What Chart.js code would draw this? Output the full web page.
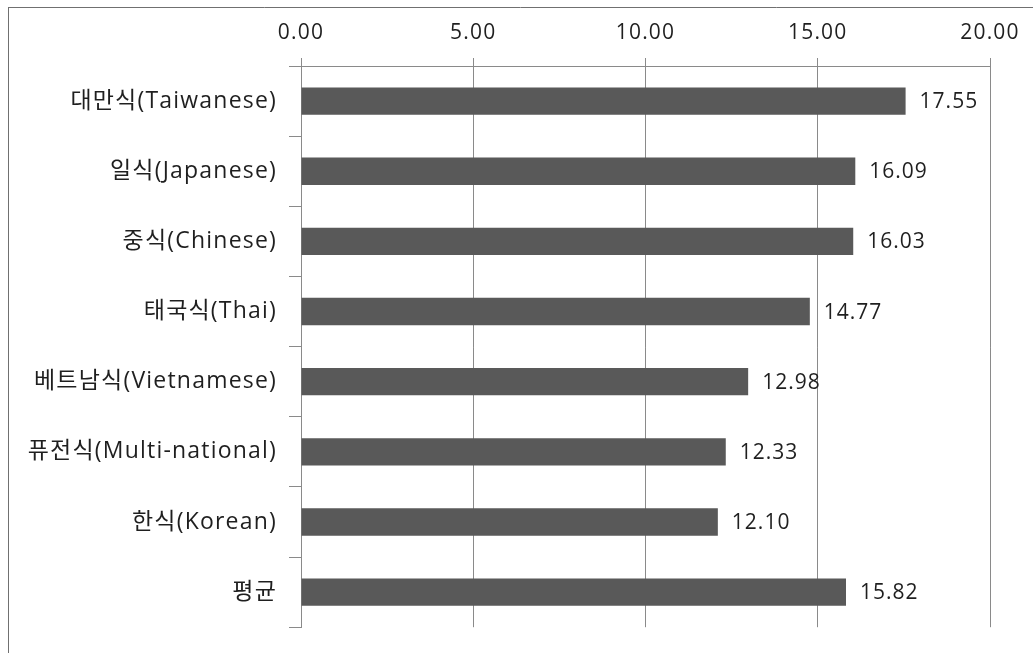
<!DOCTYPE html>
<html>
<head>
<meta charset="utf-8">
<script src="https://cdn.jsdelivr.net/npm/chart.js@4/dist/chart.umd.min.js"></script>
<style>
  html, body { margin: 0; padding: 0; background: #ffffff; }
  #wrap { width: 1033px; height: 653px; position: relative; }
</style>
</head>
<body>
<div id="wrap"><canvas id="c" width="1033" height="653"></canvas></div>
<script>
// Average menu price by cuisine type
const categories = [
  '대만식(Taiwanese)',
  '일식(Japanese)',
  '중식(Chinese)',
  '태국식(Thai)',
  '베트남식(Vietnamese)',
  '퓨전식(Multi-national)',
  '한식(Korean)',
  '평균'
];
const values = [17.55, 16.09, 16.03, 14.77, 12.98, 12.33, 12.10, 15.82];
const xTickValues = [0, 5, 10, 15, 20];

const TEXT = '#1f1f1f';
const GRID = '#8a8a8a';
const BAR = '#595959';
const FAMILY = '"Open Sans", "Noto Sans CJK KR", sans-serif';

// Frame around the figure plus letter spacing for all canvas text
const framePlugin = {
  id: 'frame',
  beforeDraw(chart) {
    const ctx = chart.ctx;
    ctx.letterSpacing = '1.2px';
    ctx.save();
    ctx.strokeStyle = '#707070';
    ctx.lineWidth = 1;
    ctx.beginPath();
    ctx.moveTo(8, 7.5);
    ctx.lineTo(1033, 7.5);
    ctx.moveTo(8.5, 7);
    ctx.lineTo(8.5, 653);
    ctx.stroke();
    ctx.restore();
  }
};

// Value labels to the right of each bar
const valueLabels = {
  id: 'valueLabels',
  afterDatasetsDraw(chart) {
    const ctx = chart.ctx;
    const meta = chart.getDatasetMeta(0);
    ctx.save();
    ctx.letterSpacing = '1px';
    ctx.font = '21px ' + FAMILY;
    ctx.fillStyle = TEXT;
    ctx.textAlign = 'left';
    ctx.textBaseline = 'middle';
    meta.data.forEach((bar, i) => {
      ctx.fillText(values[i].toFixed(2), bar.x + 14, bar.y + 1);
    });
    ctx.restore();
  }
};

new Chart(document.getElementById('c'), {
  type: 'bar',
  data: {
    labels: categories,
    datasets: [{
      data: values,
      backgroundColor: BAR,
      borderWidth: 0,
      barPercentage: 0.39,
      categoryPercentage: 1.0
    }]
  },
  options: {
    indexAxis: 'y',
    responsive: false,
    animation: false,
    devicePixelRatio: 1,
    layout: { padding: { left: 0, top: 0, right: 43, bottom: 16 } },
    plugins: {
      legend: { display: false },
      tooltip: { enabled: false }
    },
    scales: {
      x: {
        position: 'top',
        min: 0,
        max: 20,
        afterBuildTicks(scale) {
          scale.ticks = xTickValues.map(v => ({ value: v }));
        },
        afterFit(scale) { scale.height = 66; },
        ticks: {
          callback: v => Number(v).toFixed(2),
          color: TEXT,
          font: { family: FAMILY, size: 21 },
          padding: 12,
          maxRotation: 0,
          autoSkip: false
        },
        grid: {
          color: GRID,
          lineWidth: 1,
          tickLength: 8,
          drawOnChartArea: true
        },
        border: { display: true, color: GRID, width: 1 }
      },
      y: {
        afterFit(scale) { scale.width = 301; },
        ticks: {
          color: TEXT,
          font: { family: FAMILY, size: 23 },
          padding: 12
        },
        grid: {
          color: GRID,
          lineWidth: 1,
          tickLength: 12,
          offset: true,
          drawOnChartArea: false
        },
        border: { display: true, color: GRID, width: 1 }
      }
    }
  },
  plugins: [framePlugin, valueLabels]
});
</script>
</body>
</html>
